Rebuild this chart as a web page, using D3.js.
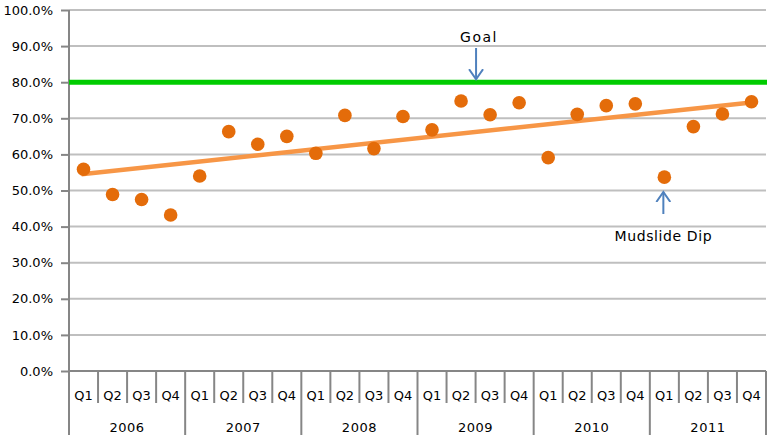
<!DOCTYPE html>
<html>
<head>
<meta charset="utf-8">
<script src="https://cdn.jsdelivr.net/npm/d3@7"></script>
<style>
  body { margin: 0; background: #fff; }
  text { font-family: "DejaVu Sans", Verdana, sans-serif; fill: #000; }
</style>
</head>
<body>
<div id="chart"></div>
<script>
// data
var years = ["2006", "2007", "2008", "2009", "2010", "2011"];
var quarters = ["Q1", "Q2", "Q3", "Q4"];
var values = [
  0.559, 0.489, 0.475, 0.432,
  0.540, 0.663, 0.628, 0.650,
  0.603, 0.708, 0.616, 0.705,
  0.668, 0.748, 0.710, 0.743,
  0.591, 0.711, 0.735, 0.740,
  0.537, 0.677, 0.712, 0.746
];
var trendEnds = [0.545, 0.744];
var goal = 0.80;
var yTicks = [0, 0.1, 0.2, 0.3, 0.4, 0.5, 0.6, 0.7, 0.8, 0.9, 1.0];

var W = 767, H = 435;
var plotLeft = 69, plotRight = 766, plotTop = 10, plotBottom = 371;

var keys = [];
years.forEach(function (yr) {
  quarters.forEach(function (q) { keys.push(yr + "-" + q); });
});

var svg = d3.select("#chart").append("svg")
  .attr("width", W).attr("height", H);

var x = d3.scaleBand().domain(keys).range([plotLeft, plotRight]).padding(0);
var y = d3.scaleLinear().domain([0, 1]).range([plotBottom, plotTop]);

var axisCol = "#868686";

// gridlines
svg.append("g").selectAll("line")
  .data(yTicks.filter(function (t) { return t > 0; }))
  .enter().append("line")
  .attr("x1", plotLeft).attr("x2", plotRight)
  .attr("y1", function (d) { return y(d); })
  .attr("y2", function (d) { return y(d); })
  .attr("stroke", "#bfbfbf").attr("stroke-width", 2);

// y axis
var yAxis = d3.axisLeft(y).tickValues(yTicks).tickSize(8).tickPadding(8)
  .tickFormat(d3.format(".1%"));
var gy = svg.append("g").attr("transform", "translate(" + plotLeft + ",0)").call(yAxis);
gy.select(".domain").remove();
gy.selectAll("line").attr("stroke", axisCol).attr("stroke-width", 2);
gy.selectAll("text").style("font-size", "13px").style("font-family", "DejaVu Sans");

svg.append("line")
  .attr("x1", plotLeft).attr("x2", plotLeft).attr("y1", plotTop).attr("y2", H)
  .attr("stroke", axisCol).attr("stroke-width", 2);
svg.append("line")
  .attr("x1", plotLeft).attr("x2", plotRight).attr("y1", plotBottom).attr("y2", plotBottom)
  .attr("stroke", axisCol).attr("stroke-width", 2);

// category ticks
svg.append("g").selectAll("line")
  .data(keys.concat(["end"]))
  .enter().append("line")
  .attr("x1", function (d, i) { return i < keys.length ? x(d) : plotRight; })
  .attr("x2", function (d, i) { return i < keys.length ? x(d) : plotRight; })
  .attr("y1", plotBottom)
  .attr("y2", function (d, i) { return (i % 4 === 0) ? H : 403; })
  .attr("stroke", axisCol).attr("stroke-width", 2);

svg.append("g").selectAll("text")
  .data(keys)
  .enter().append("text")
  .attr("x", function (d) { return x(d) + x.bandwidth() / 2; })
  .attr("y", 400)
  .attr("text-anchor", "middle")
  .style("font-size", "13px")
  .text(function (d) { return d.split("-")[1]; });

svg.append("g").selectAll("text")
  .data(years)
  .enter().append("text")
  .attr("x", function (d) { return x(d + "-Q1") + x.bandwidth() * 2; })
  .attr("y", 432)
  .attr("text-anchor", "middle")
  .style("font-size", "13px")
  .style("letter-spacing", "0.5px")
  .text(function (d) { return d; });

// goal line
svg.append("line")
  .attr("x1", plotLeft).attr("x2", W)
  .attr("y1", y(goal)).attr("y2", y(goal))
  .attr("stroke", "#00cc00").attr("stroke-width", 5);

// trend line
var firstKey = keys[0], lastKey = keys[keys.length - 1];
svg.append("line")
  .attr("x1", x(firstKey) + x.bandwidth() / 2 - 2)
  .attr("x2", x(lastKey) + x.bandwidth() / 2)
  .attr("y1", y(trendEnds[0]))
  .attr("y2", y(trendEnds[1]))
  .attr("stroke", "#f79646").attr("stroke-width", 4.5);

// points
svg.append("g").selectAll("circle")
  .data(values)
  .enter().append("circle")
  .attr("cx", function (d, i) { return x(keys[i]) + x.bandwidth() / 2; })
  .attr("cy", function (d) { return y(d); })
  .attr("r", 6.8)
  .attr("fill", "#e46c0a");

// annotations
var arrowCol = "#4f81bd";
svg.append("defs").append("marker")
  .attr("id", "head")
  .attr("viewBox", "0 -8 12 16")
  .attr("refX", 10).attr("refY", 0)
  .attr("markerWidth", 12).attr("markerHeight", 16)
  .attr("markerUnits", "userSpaceOnUse")
  .attr("orient", "auto")
  .append("path")
  .attr("d", "M0,-7 L10,0 L0,7")
  .attr("fill", "none").attr("stroke", arrowCol).attr("stroke-width", 2);

var goalX = x("2009-Q2") + x.bandwidth() / 2 + 15;
svg.append("text")
  .attr("x", goalX + 3).attr("y", 42)
  .attr("text-anchor", "middle")
  .style("font-size", "14px")
  .style("letter-spacing", "1.5px")
  .text("Goal");
svg.append("line")
  .attr("x1", goalX).attr("x2", goalX)
  .attr("y1", 48).attr("y2", y(goal) - 3)
  .attr("stroke", arrowCol).attr("stroke-width", 2)
  .attr("marker-end", "url(#head)");

var dipX = x("2011-Q1") + x.bandwidth() / 2 - 1;
svg.append("line")
  .attr("x1", dipX).attr("x2", dipX)
  .attr("y1", 214).attr("y2", 192)
  .attr("stroke", arrowCol).attr("stroke-width", 2)
  .attr("marker-end", "url(#head)");
svg.append("text")
  .attr("x", dipX).attr("y", 241)
  .attr("text-anchor", "middle")
  .style("font-size", "14px")
  .style("letter-spacing", "0.6px")
  .text("Mudslide Dip");
</script>
</body>
</html>
